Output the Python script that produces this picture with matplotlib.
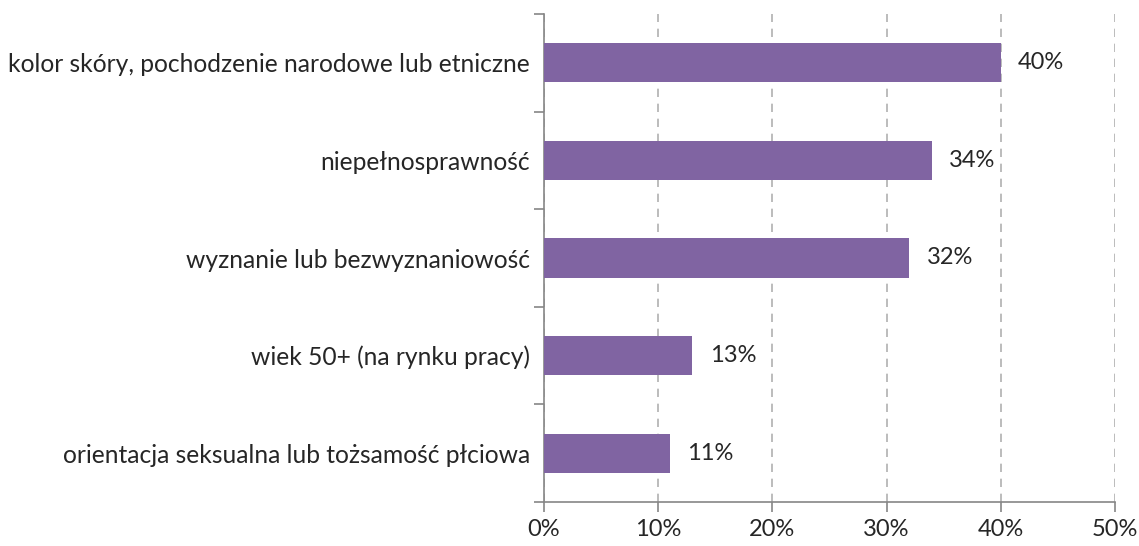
import matplotlib.pyplot as plt
from matplotlib.ticker import FixedLocator, NullFormatter

categories = [
    "kolor skóry, pochodzenie narodowe lub etniczne",
    "niepełnosprawność",
    "wyznanie lub bezwyznaniowość",
    "wiek 50+ (na rynku pracy)",
    "orientacja seksualna lub tożsamość płciowa",
]
values = [40, 34, 32, 13, 11]
xticks = [0, 10, 20, 30, 40, 50]

plt.rcParams['font.family'] = ['Lato', 'DejaVu Sans']
text_col = '#262626'
axis_col = '#868686'
fs = 17

fig = plt.figure(figsize=(11.39, 5.46), dpi=100)
ax = fig.add_axes([544 / 1139, 1 - 502 / 546, (1115 - 544) / 1139, (502 - 14) / 546])

pos = list(range(len(categories)))
ax.barh(pos, values, height=0.4, color='#8064A2', zorder=3)
for p, v in zip(pos, values):
    ax.text(v + 1.5, p, f"{v}%", va='center', ha='left', fontsize=fs, color=text_col)

ax.set_xlim(0, 50)
ax.set_ylim(len(categories) - 0.5, -0.5)
ax.set_xticks(xticks)
ax.set_xticklabels([f"{t}%" for t in xticks], fontsize=fs, color=text_col)
ax.set_yticks(pos)
ax.set_yticklabels(categories, fontsize=17.7, color=text_col)
ax.yaxis.set_minor_locator(FixedLocator([p - 0.5 for p in pos] + [pos[-1] + 0.5]))
ax.yaxis.set_minor_formatter(NullFormatter())
ax.tick_params(axis='y', which='major', length=0, pad=10)
ax.tick_params(axis='y', which='minor', length=7, color=axis_col, width=1.2, direction='out')
ax.tick_params(axis='x', length=7, color=axis_col, width=1.2, direction='out', pad=5)

ax.xaxis.grid(True, linestyle=(0, (5, 4)), color='#B0B0B0', linewidth=1.2, zorder=0)
for s in ['top', 'right']:
    ax.spines[s].set_visible(False)
for s in ['left', 'bottom']:
    ax.spines[s].set_color(axis_col)
    ax.spines[s].set_linewidth(1.2)

fig.savefig('out.png', dpi=100)
